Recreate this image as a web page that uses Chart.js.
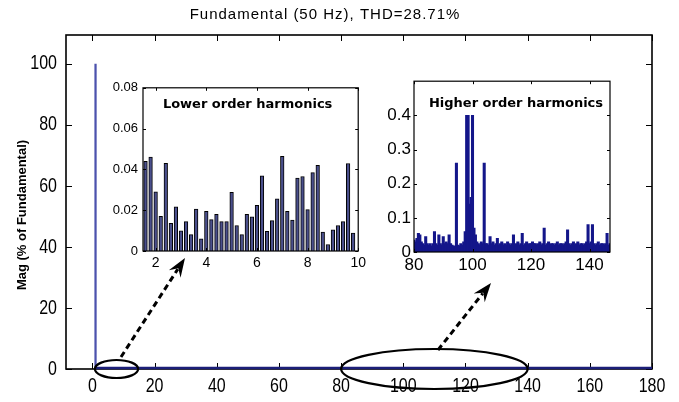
<!DOCTYPE html>
<html>
<head>
<meta charset="utf-8">
<script src="https://cdn.jsdelivr.net/npm/chart.js@4.4.0/dist/chart.umd.min.js"></script>
<style>
  html, body { margin: 0; padding: 0; background: #fff; }
  #wrap { position: relative; width: 679px; height: 402px; overflow: hidden; }
  #wrap canvas { position: absolute; }
  #mainChart { left: 0; top: 0; }
  #lowChart { left: 100px; top: 75px; }
  #highChart { left: 370px; top: 68px; }
</style>
</head>
<body>
<div id="wrap">
  <canvas id="mainChart" width="679" height="402"></canvas>
  <canvas id="lowChart" width="270" height="200"></canvas>
  <canvas id="highChart" width="260" height="210"></canvas>
</div>
<script>
  // ── DATA ──
  const mainXTicks = [0, 20, 40, 60, 80, 100, 120, 140, 160, 180];
  const mainYTicks = [0, 20, 40, 60, 80, 100];
  const lowXTicks = [2, 4, 6, 8, 10];
  const lowYTicks = [0, 0.02, 0.04, 0.06, 0.08];
  const highXTicks = [80, 100, 120, 140];
  const highYTicks = [0, 0.1, 0.2, 0.3, 0.4];

  const fundOrder = [1];
  const fundMag = [100];

  const lowOrders = [1.6, 1.8, 2.0, 2.2, 2.4, 2.6, 2.8, 3.0, 3.2, 3.4, 3.6, 3.8, 4.0, 4.2,
    4.4, 4.6, 4.8, 5.0, 5.2, 5.4, 5.6, 5.8, 6.0, 6.2, 6.4, 6.6, 6.8, 7.0,
    7.2, 7.4, 7.6, 7.8, 8.0, 8.2, 8.4, 8.6, 8.8, 9.0, 9.2, 9.4, 9.6, 9.8];
  const lowMags = [0.044, 0.046, 0.029, 0.017, 0.043, 0.0136, 0.0216, 0.0099, 0.0144, 0.008,
    0.0205, 0.006, 0.0195, 0.0154, 0.018, 0.0144, 0.0144, 0.0288, 0.0125, 0.008,
    0.018, 0.0168, 0.0224, 0.0368, 0.0096, 0.0149, 0.0256, 0.0464, 0.0195, 0.0152,
    0.0357, 0.0365, 0.0203, 0.0384, 0.042, 0.0093, 0.0032, 0.0104, 0.0125, 0.0144,
    0.0429, 0.0088];

  const hiOrders = [
    80, 80.5, 81, 81.5, 82, 82.5, 83, 83.5, 84, 84.5, 85, 85.5, 86, 86.5, 87, 87.5,
    88, 88.5, 89, 89.5, 90, 90.5, 91, 91.5, 92, 92.5, 93, 93.5, 94, 94.5, 95, 95.5,
    96, 96.5, 97, 97.5, 98, 98.5, 99, 99.5, 100, 100.5, 101, 101.5, 102, 102.5, 103, 103.5,
    104, 104.5, 105, 105.5, 106, 106.5, 107, 107.5, 108, 108.5, 109, 109.5, 110, 110.5, 111, 111.5,
    112, 112.5, 113, 113.5, 114, 114.5, 115, 115.5, 116, 116.5, 117, 117.5, 118, 118.5, 119, 119.5,
    120, 120.5, 121, 121.5, 122, 122.5, 123, 123.5, 124, 124.5, 125, 125.5, 126, 126.5, 127, 127.5,
    128, 128.5, 129, 129.5, 130, 130.5, 131, 131.5, 132, 132.5, 133, 133.5, 134, 134.5, 135, 135.5,
    136, 136.5, 137, 137.5, 138, 138.5, 139, 139.5, 140, 140.5, 141, 141.5, 142, 142.5, 143, 143.5,
    144, 144.5, 145, 145.5, 146, 146.5, 147];
  const hiMags = [
    0.035, 0.03, 0.04, 0.055, 0.05, 0.03, 0.025, 0.02, 0.045, 0.025, 0.02, 0.025, 0.018, 0.025, 0.06, 0.025,
    0.02, 0.05, 0.025, 0.02, 0.045, 0.025, 0.03, 0.025, 0.05, 0.025, 0.02, 0.018, 0.015, 0.26, 0.02, 0.018,
    0.025, 0.02, 0.03, 0.06, 0.4, 0.4, 0.14, 0.16, 0.4, 0.07, 0.05, 0.03, 0.025, 0.02, 0.03, 0.025,
    0.26, 0.025, 0.025, 0.02, 0.045, 0.025, 0.03, 0.02, 0.025, 0.04, 0.02, 0.025, 0.03, 0.02, 0.025, 0.02,
    0.03, 0.025, 0.02, 0.025, 0.05, 0.02, 0.025, 0.03, 0.02, 0.025, 0.055, 0.02, 0.025, 0.03, 0.02, 0.025,
    0.025, 0.03, 0.025, 0.025, 0.02, 0.025, 0.03, 0.02, 0.025, 0.07, 0.02, 0.025, 0.03, 0.02, 0.025, 0.025,
    0.02, 0.025, 0.03, 0.02, 0.025, 0.025, 0.02, 0.025, 0.03, 0.065, 0.025, 0.02, 0.025, 0.03, 0.02, 0.025,
    0.03, 0.02, 0.025, 0.025, 0.02, 0.025, 0.03, 0.08, 0.025, 0.03, 0.08, 0.025, 0.02, 0.025, 0.03, 0.02,
    0.025, 0.025, 0.02, 0.025, 0.055, 0.02, 0.025];

  // ── HELPERS ──
  const SANS = "'Liberation Sans', Arial, sans-serif";
  Chart.defaults.font.family = SANS;
  Chart.defaults.color = '#000';

  const toPoints = (xs, ys) => xs.map((x, i) => ({ x: x, y: ys[i] }));
  const fixTicks = values => scale => { scale.ticks = values.map(v => ({ value: v })); };

  // matlab style box with inward ticks on all four sides
  const frame = {
    id: 'frame',
    afterDatasetsDraw(chart, args, opts) {
      const { ctx, chartArea: a, scales: { x, y } } = chart;
      const t = opts.tick;
      ctx.save();
      ctx.strokeStyle = '#000';
      ctx.lineWidth = opts.width;
      ctx.strokeRect(a.left, a.top, a.right - a.left, a.bottom - a.top);
      ctx.lineWidth = 1;
      ctx.beginPath();
      x.ticks.forEach(tk => {
        const px = Math.round(x.getPixelForValue(tk.value)) + 0.5;
        ctx.moveTo(px, a.bottom); ctx.lineTo(px, a.bottom - t);
        ctx.moveTo(px, a.top); ctx.lineTo(px, a.top + t);
      });
      y.ticks.forEach(tk => {
        const py = Math.round(y.getPixelForValue(tk.value)) + 0.5;
        ctx.moveTo(a.left, py); ctx.lineTo(a.left + t, py);
        ctx.moveTo(a.right, py); ctx.lineTo(a.right - t, py);
      });
      ctx.stroke();
      ctx.restore();
    }
  };

  // condensed tick labels (no narrow font installed, so squeeze a normal one)
  const narrowLabels = {
    id: 'narrowLabels',
    afterDraw(chart, args, opts) {
      const { ctx, chartArea: a, scales: { x, y } } = chart;
      const put = (text, px, py, align) => {
        ctx.save();
        ctx.translate(px, py);
        ctx.scale(opts.sx, 1);
        ctx.textAlign = align;
        ctx.textBaseline = 'middle';
        ctx.fillText(text, 0, 0);
        ctx.restore();
      };
      ctx.save();
      ctx.font = opts.font;
      ctx.fillStyle = '#000';
      x.ticks.forEach(t => put(String(t.value), x.getPixelForValue(t.value), a.bottom + opts.padY, 'center'));
      y.ticks.forEach(t => put(String(t.value), a.left - opts.padX, y.getPixelForValue(t.value), 'right'));
      ctx.restore();
    }
  };

  // caption written inside an inset box
  const boxTitle = {
    id: 'boxTitle',
    afterDraw(chart, args, opts) {
      if (!opts.text) return;
      const { ctx, chartArea: a } = chart;
      ctx.save();
      ctx.font = opts.font;
      ctx.fillStyle = '#000';
      ctx.textAlign = 'center';
      ctx.textBaseline = 'middle';
      ctx.fillText(opts.text, (a.left + a.right) / 2 + opts.dx, a.top + opts.dy);
      ctx.restore();
    }
  };

  function drawArrow(ctx, x1, y1, x2, y2) {
    const ang = Math.atan2(y2 - y1, x2 - x1);
    const L = 19, W = 7;
    const cx = Math.cos(ang), cy = Math.sin(ang);
    const bx = x2 - L * 0.7 * cx, by = y2 - L * 0.7 * cy;
    ctx.save();
    ctx.strokeStyle = '#000';
    ctx.lineWidth = 3;
    ctx.setLineDash([6, 4]);
    ctx.beginPath(); ctx.moveTo(x1, y1); ctx.lineTo(bx, by); ctx.stroke();
    ctx.setLineDash([]);
    ctx.fillStyle = '#000';
    ctx.beginPath();
    ctx.moveTo(x2, y2);
    ctx.lineTo(x2 - L * cx - W * cy, y2 - L * cy + W * cx);
    ctx.lineTo(x2 - L * 0.65 * cx, y2 - L * 0.65 * cy);
    ctx.lineTo(x2 - L * cx + W * cy, y2 - L * cy - W * cx);
    ctx.closePath();
    ctx.fill();
    ctx.restore();
  }

  // baseline, title, axis label, ellipses and arrows of the main plot
  const annot = {
    id: 'annot',
    afterDraw(chart, args, opts) {
      const { ctx, scales: { x, y } } = chart;
      const y0 = y.getPixelForValue(0);
      ctx.save();
      // bar baseline
      ctx.strokeStyle = '#1c1f78';
      ctx.lineWidth = 2.5;
      ctx.beginPath();
      ctx.moveTo(x.getPixelForValue(fundOrder[0]), y0 - 1);
      ctx.lineTo(x.getPixelForValue(x.max), y0 - 1);
      ctx.stroke();
      // title
      ctx.fillStyle = '#000';
      ctx.font = opts.titleFont;
      ctx.letterSpacing = '1px';
      ctx.textAlign = 'center';
      ctx.textBaseline = 'middle';
      ctx.fillText(opts.title, opts.titleX, opts.titleY);
      ctx.letterSpacing = '0px';
      // y label
      ctx.save();
      ctx.translate(opts.labelX, opts.labelY);
      ctx.rotate(-Math.PI / 2);
      ctx.font = opts.labelFont;
      ctx.fillText(opts.label, 0, 0);
      ctx.restore();
      // ellipses round the zoomed ranges
      ctx.strokeStyle = '#000';
      ctx.lineWidth = 2.2;
      opts.ellipses.forEach(e => {
        const l = x.getPixelForValue(e.from), r = x.getPixelForValue(e.to);
        ctx.beginPath();
        ctx.ellipse((l + r) / 2, y0, (r - l) / 2, e.ry, 0, 0, Math.PI * 2);
        ctx.stroke();
      });
      ctx.restore();
      opts.arrows.forEach(a => drawArrow(ctx, a[0], a[1], a[2], a[3]));
    }
  };

  const noHover = { legend: { display: false }, tooltip: { enabled: false } };

  // ── MAIN SPECTRUM ──
  new Chart(document.getElementById('mainChart'), {
    type: 'bar',
    data: {
      datasets: [{
        data: toPoints(fundOrder, fundMag).concat(toPoints(lowOrders, lowMags), toPoints(hiOrders, hiMags)),
        backgroundColor: '#4c52ad', barThickness: 1.6, borderWidth: 0
      }]
    },
    options: {
      responsive: false, animation: false, events: [],
      layout: { padding: { left: 0, top: 35, right: 27, bottom: 0 } },
      plugins: {
        ...noHover,
        frame: { tick: 6, width: 1.6 },
        narrowLabels: { font: "20px 'Liberation Sans', Arial, sans-serif", sx: 0.8, padX: 9, padY: 17 },
        annot: {
          title: 'Fundamental (50 Hz), THD=28.71%', titleFont: "15px 'Liberation Sans', Arial, sans-serif",
          titleX: 325, titleY: 15,
          label: 'Mag (% of Fundamental)', labelFont: "bold 13px 'Liberation Sans', Arial, sans-serif",
          labelX: 22, labelY: 215,
          ellipses: [{ from: 0.8, to: 14.7, ry: 9 }, { from: 80, to: 140, ry: 20 }],
          arrows: [[121, 357, 185, 258], [438, 350, 491, 283]]
        }
      },
      scales: {
        x: {
          type: 'linear', min: -8.5, max: 180, offset: false,
          grid: { display: false, drawTicks: false }, border: { display: false },
          ticks: { display: false },
          afterBuildTicks: fixTicks(mainXTicks),
          afterFit: s => { s.height = 33; }
        },
        y: {
          min: 0, max: 109.5,
          grid: { display: false, drawTicks: false }, border: { display: false },
          ticks: { display: false },
          afterBuildTicks: fixTicks(mainYTicks),
          afterFit: s => { s.width = 66; }
        }
      }
    },
    plugins: [frame, narrowLabels, annot]
  });

  // ── LOWER ORDER INSET ──
  new Chart(document.getElementById('lowChart'), {
    type: 'bar',
    data: {
      datasets: [{
        data: toPoints(lowOrders, lowMags),
        backgroundColor: '#4a4f8c', borderColor: '#000', borderWidth: 1, barThickness: 3.6
      }]
    },
    options: {
      responsive: false, animation: false, events: [],
      layout: { padding: { left: 0, top: 10, right: 11, bottom: 0 } },
      plugins: {
        ...noHover,
        frame: { tick: 3, width: 1.2 },
        boxTitle: { text: 'Lower order harmonics', font: "bold 13px 'DejaVu Sans', sans-serif", dx: -3, dy: 17 }
      },
      scales: {
        x: {
          type: 'linear', min: 1.5, max: 10, offset: false,
          grid: { display: false, drawTicks: false }, border: { display: false },
          ticks: { padding: 4, font: { size: 14 }, maxRotation: 0, autoSkip: false },
          afterBuildTicks: fixTicks(lowXTicks),
          afterFit: s => { s.height = 24; }
        },
        y: {
          min: 0, max: 0.08,
          grid: { display: false, drawTicks: false }, border: { display: false },
          ticks: { padding: 5, font: { size: 13 } },
          afterBuildTicks: fixTicks(lowYTicks),
          afterFit: s => { s.width = 43; }
        }
      }
    },
    plugins: [frame, boxTitle]
  });

  // ── HIGHER ORDER INSET ──
  new Chart(document.getElementById('highChart'), {
    type: 'bar',
    data: {
      datasets: [{
        data: toPoints(hiOrders, hiMags),
        backgroundColor: '#14168a', borderWidth: 0, barThickness: 2.4
      }]
    },
    options: {
      responsive: false, animation: false, events: [],
      layout: { padding: { left: 0, top: 10, right: 20, bottom: 0 } },
      plugins: {
        ...noHover,
        frame: { tick: 3, width: 1.2 },
        boxTitle: { text: 'Higher order harmonics', font: "bold 13px 'DejaVu Sans', sans-serif", dx: 4, dy: 22 }
      },
      scales: {
        x: {
          type: 'linear', min: 80, max: 147, offset: false,
          grid: { display: false, drawTicks: false }, border: { display: false },
          ticks: { padding: 3, font: { size: 17 }, maxRotation: 0, autoSkip: false },
          afterBuildTicks: fixTicks(highXTicks),
          afterFit: s => { s.height = 26; }
        },
        y: {
          min: 0, max: 0.5,
          grid: { display: false, drawTicks: false }, border: { display: false },
          ticks: { padding: 3, font: { size: 17 } },
          afterBuildTicks: fixTicks(highYTicks),
          afterFit: s => { s.width = 44; }
        }
      }
    },
    plugins: [frame, boxTitle]
  });
</script>
</body>
</html>
